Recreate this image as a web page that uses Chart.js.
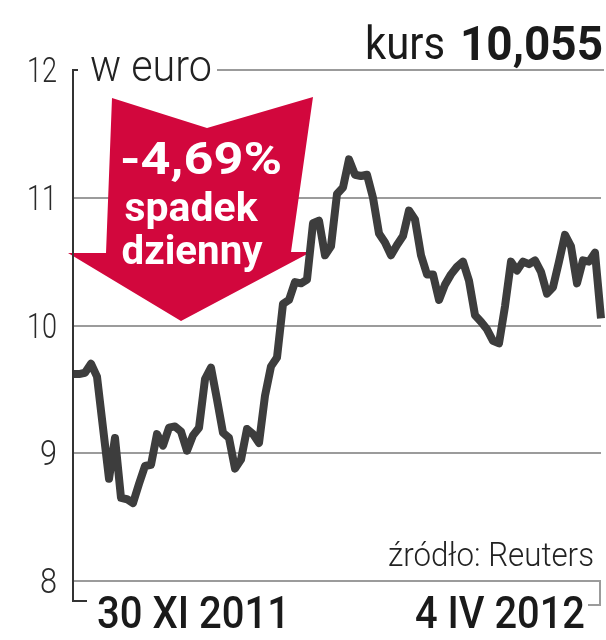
<!DOCTYPE html>
<html>
<head>
<meta charset="utf-8">
<script src="https://cdn.jsdelivr.net/npm/chart.js@4"></script>
<style>
  html, body { margin: 0; padding: 0; background: #fff; }
  #wrap { width: 606px; height: 640px; }
</style>
</head>
<body>
<div id="wrap"><canvas id="c" width="606" height="640"></canvas></div>
<script>
// daily close, 30 XI 2011 - 4 IV 2012 (EUR)
const prices = [
  9.62, 9.62, 9.63, 9.70, 9.60, 9.20, 8.80, 9.12, 8.65, 8.64,
  8.61, 8.76, 8.90, 8.91, 9.15, 9.06, 9.20, 9.21, 9.17, 9.02,
  9.14, 9.20, 9.58, 9.67, 9.42, 9.16, 9.12, 8.88, 8.95, 9.19,
  9.15, 9.08, 9.45, 9.68, 9.75, 10.17, 10.20, 10.34, 10.33, 10.36,
  10.80, 10.82, 10.55, 10.62, 11.03, 11.08, 11.30, 11.18, 11.17, 11.18,
  11.00, 10.72, 10.65, 10.55, 10.63, 10.70, 10.90, 10.83, 10.55, 10.40,
  10.40, 10.20, 10.32, 10.40, 10.46, 10.50, 10.35, 10.08, 10.03, 9.97,
  9.88, 9.86, 10.15, 10.50, 10.43, 10.50, 10.48, 10.51, 10.42, 10.25,
  10.30, 10.50, 10.71, 10.62, 10.33, 10.51, 10.50, 10.57, 10.055
];
const days = prices.map((_, i) => i);
const yTicks = [8, 9, 10, 11, 12];
const dateLabels = ['30 XI 2011', '4 IV 2012'];
const unitLabel = 'w euro';
const lastLabel = 'kurs';
const lastValue = '10,055';
const badge = ['-4,69%', 'spadek', 'dzienny'];
const source = 'źródło: Reuters';

// text squeezed to a given width (the paper uses a condensed face)
function txt(ctx, s, x, y, font, color, w, align) {
  ctx.save();
  ctx.font = font;
  ctx.fillStyle = color;
  ctx.textAlign = 'left';
  ctx.textBaseline = 'alphabetic';
  const m = ctx.measureText(s).width;
  const k = w ? w / m : 1;
  let left = x;
  if (align === 'right') left = x - m * k;
  if (align === 'center') left = x - m * k / 2;
  ctx.translate(left, y);
  ctx.scale(k, 1);
  ctx.fillText(s, 0, 0);
  ctx.restore();
}

const decor = {
  id: 'decor',
  beforeDatasetsDraw(chart) {
    const ctx = chart.ctx;
    // red arrow
    ctx.save();
    ctx.fillStyle = '#d2073d';
    ctx.beginPath();
    ctx.moveTo(112, 98);
    ctx.lineTo(207, 128);
    ctx.lineTo(313, 97);
    ctx.lineTo(291, 252);
    ctx.lineTo(311, 252);
    ctx.lineTo(181, 321);
    ctx.lineTo(68, 253);
    ctx.lineTo(106, 253);
    ctx.closePath();
    ctx.fill();
    ctx.restore();
    txt(ctx, badge[0], 201, 174, 'bold 44px Roboto', '#fff', 162, 'center');
    txt(ctx, badge[1], 191, 221, 'bold 40px Roboto', '#fff', 133, 'center');
    txt(ctx, badge[2], 192, 264, 'bold 40px Roboto', '#fff', 141, 'center');
  },
  afterDraw(chart) {
    const { ctx, chartArea: a, scales: { y } } = chart;
    const top = y.getPixelForValue(12);
    const bot = y.getPixelForValue(8);
    ctx.save();
    ctx.strokeStyle = '#9b9b9b';
    ctx.lineWidth = 2;
    // top rule after the unit label
    ctx.beginPath();
    ctx.moveTo(217, top); ctx.lineTo(604, top);
    ctx.stroke();
    // bottom rule
    ctx.beginPath();
    ctx.moveTo(a.left, bot); ctx.lineTo(600, bot); ctx.lineTo(600, 605); ctx.lineTo(588, 605);
    ctx.stroke();
    // left axis
    ctx.strokeStyle = '#333';
    ctx.beginPath();
    ctx.moveTo(78, top); ctx.lineTo(a.left, top); ctx.lineTo(a.left, 601); ctx.lineTo(87, 601);
    ctx.stroke();
    ctx.restore();

    yTicks.forEach(v => {
      const py = y.getPixelForValue(v);
      const w = v >= 10 ? 30 : 17;
      txt(ctx, String(v), 57, py + 12, '300 35px Roboto', '#2a2a2a', w, 'right');
    });
    txt(ctx, unitLabel, 90, 81, '300 44px Roboto', '#222', 122);
    txt(ctx, lastLabel, 365, 59, '400 46px Roboto', '#1a1a1a', 80);
    txt(ctx, lastValue, 603, 60, 'bold 48px Roboto', '#1a1a1a', 143, 'right');
    txt(ctx, source, 594, 566, '300 33px Roboto', '#222', 206, 'right');
    txt(ctx, dateLabels[0], 97, 628, '500 44px Roboto', '#1a1a1a', 193);
    txt(ctx, dateLabels[1], 585, 628, '500 44px Roboto', '#1a1a1a', 170, 'right');
  }
};

new Chart(document.getElementById('c'), {
  type: 'line',
  data: {
    labels: days,
    datasets: [{
      data: prices,
      borderColor: '#3d3d3d',
      borderWidth: 8,
      pointRadius: 0,
      tension: 0,
      borderJoinStyle: 'round',
      borderCapStyle: 'butt',
      clip: false
    }]
  },
  options: {
    responsive: false,
    devicePixelRatio: 1,
    animation: false,
    layout: { padding: { left: 73, right: 5, top: 70, bottom: 59 } },
    plugins: { legend: { display: false }, tooltip: { enabled: false } },
    scales: {
      x: { type: 'category', display: false, offset: false },
      y: {
        min: 8,
        max: 12,
        afterFit: s => { s.width = 0; },
        afterBuildTicks: s => { s.ticks = yTicks.map(v => ({ value: v })); },
        ticks: { display: false },
        border: { display: false },
        grid: {
          drawTicks: false,
          lineWidth: 2,
          color: c => (c.tick.value === 12 || c.tick.value === 8) ? 'rgba(0,0,0,0)' : '#9b9b9b'
        }
      }
    }
  },
  plugins: [decor]
});
</script>
</body>
</html>
